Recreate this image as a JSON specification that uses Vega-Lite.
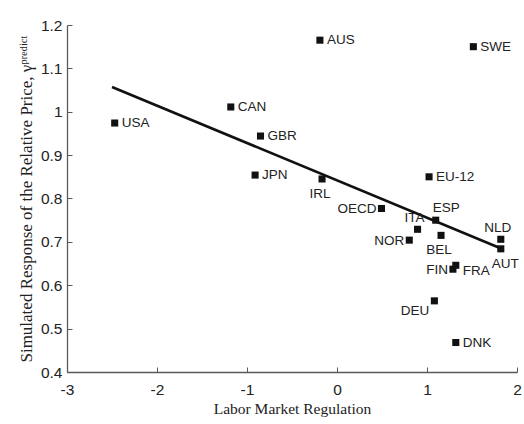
{
  "$schema": "https://vega.github.io/schema/vega-lite/v6.json",
  "autosize": "none",
  "width": 450,
  "height": 347,
  "padding": {"left": 67, "top": 25, "right": 7, "bottom": 52},
  "background": "white",
  "config": {
    "view": {"stroke": null},
    "axis": {
      "grid": false,
      "domainColor": "#5a5a5a",
      "tickColor": "#5a5a5a",
      "domainWidth": 1.3,
      "tickWidth": 1,
      "tickSize": -5,
      "labelFont": "Liberation Sans",
      "labelFontSize": 15.5,
      "labelColor": "#222",
      "titleFont": "Liberation Serif",
      "titleFontSize": 15.5,
      "titleFontWeight": "normal",
      "titleColor": "#222"
    }
  },
  "datasets": {
    "pts": [
      {"country": "USA", "lmr": -2.47, "gamma": 0.974},
      {"country": "CAN", "lmr": -1.18, "gamma": 1.011},
      {"country": "AUS", "lmr": -0.19, "gamma": 1.165},
      {"country": "SWE", "lmr": 1.515, "gamma": 1.150},
      {"country": "GBR", "lmr": -0.85, "gamma": 0.944},
      {"country": "JPN", "lmr": -0.91, "gamma": 0.854},
      {"country": "IRL", "lmr": -0.166, "gamma": 0.845},
      {"country": "EU-12", "lmr": 1.023, "gamma": 0.850},
      {"country": "OECD", "lmr": 0.494, "gamma": 0.777},
      {"country": "ESP", "lmr": 1.097, "gamma": 0.750},
      {"country": "ITA", "lmr": 0.895, "gamma": 0.729},
      {"country": "NOR", "lmr": 0.803, "gamma": 0.704},
      {"country": "BEL", "lmr": 1.156, "gamma": 0.715},
      {"country": "NLD", "lmr": 1.82, "gamma": 0.706},
      {"country": "AUT", "lmr": 1.82, "gamma": 0.684},
      {"country": "FIN", "lmr": 1.288, "gamma": 0.637},
      {"country": "FRA", "lmr": 1.32, "gamma": 0.646},
      {"country": "DEU", "lmr": 1.082, "gamma": 0.564},
      {"country": "DNK", "lmr": 1.32, "gamma": 0.468}
    ],
    "fit": [
      {"lmr": -2.5, "gamma": 1.057},
      {"lmr": 1.81, "gamma": 0.686}
    ]
  },
  "encoding": {
    "x": {
      "field": "lmr", "type": "quantitative",
      "scale": {"domain": [-3, 2], "nice": false, "zero": false},
      "axis": {"title": "Labor Market Regulation", "values": [-3, -2, -1, 0, 1, 2], "labelExpr": "datum.value + ''", "labelPadding": 15, "titlePadding": 4, "labelFlush": false}
    },
    "y": {
      "field": "gamma", "type": "quantitative",
      "scale": {"domain": [0.4, 1.2], "nice": false, "zero": false},
      "axis": {"title": "Simulated Response of the Relative Price, γᵖʳᵉᵈⁱᶜᵗ", "titleFontSize": 17, "values": [0.4, 0.5, 0.6, 0.7, 0.8, 0.9, 1, 1.1, 1.2], "labelExpr": "datum.value + ''", "labelPadding": 10, "titlePadding": 5, "labelFlush": false}
    }
  },
  "layer": [
    {
      "data": {"name": "fit"},
      "mark": {"type": "line", "color": "#111", "strokeWidth": 2.6}
    },
    {
      "data": {"name": "pts"},
      "mark": {"type": "point", "shape": "square", "filled": true, "color": "#111", "opacity": 1, "size": 50}
    },
    {
      "data": {"name": "pts"},
      "transform": [{"filter": {"field": "country", "oneOf": ["USA", "CAN", "AUS", "SWE", "GBR", "JPN", "EU-12", "DNK"]}}],
      "mark": {"type": "text", "align": "left", "baseline": "middle", "dx": 7, "font": "Liberation Sans", "fontSize": 13.5, "color": "#222"},
      "encoding": {"text": {"field": "country"}}
    },
    {
      "data": {"name": "pts"},
      "transform": [{"filter": {"field": "country", "oneOf": ["OECD", "NOR", "FIN"]}}],
      "mark": {"type": "text", "align": "right", "baseline": "middle", "dx": -5, "dy": 1, "font": "Liberation Sans", "fontSize": 13.5, "color": "#222"},
      "encoding": {"text": {"field": "country"}}
    },
    {
      "data": {"name": "pts"},
      "transform": [{"filter": {"field": "country", "oneOf": ["IRL", "BEL"]}}],
      "mark": {"type": "text", "align": "center", "baseline": "top", "dx": -2, "dy": 8, "font": "Liberation Sans", "fontSize": 13.5, "color": "#222"},
      "encoding": {"text": {"field": "country"}}
    },
    {
      "data": {"name": "pts"},
      "transform": [{"filter": {"field": "country", "equal": "ESP"}}],
      "mark": {"type": "text", "align": "left", "baseline": "bottom", "dx": -3, "dy": -5, "font": "Liberation Sans", "fontSize": 13.5, "color": "#222"},
      "encoding": {"text": {"field": "country"}}
    },
    {
      "data": {"name": "pts"},
      "transform": [{"filter": {"field": "country", "oneOf": ["ITA", "NLD"]}}],
      "mark": {"type": "text", "align": "center", "baseline": "bottom", "dx": -3, "dy": -4, "font": "Liberation Sans", "fontSize": 13.5, "color": "#222"},
      "encoding": {"text": {"field": "country"}}
    },
    {
      "data": {"name": "pts"},
      "transform": [{"filter": {"field": "country", "equal": "AUT"}}],
      "mark": {"type": "text", "align": "left", "baseline": "top", "dx": -9, "dy": 8, "font": "Liberation Sans", "fontSize": 13.5, "color": "#222"},
      "encoding": {"text": {"field": "country"}}
    },
    {
      "data": {"name": "pts"},
      "transform": [{"filter": {"field": "country", "equal": "FRA"}}],
      "mark": {"type": "text", "align": "left", "baseline": "middle", "dx": 7, "dy": 6, "font": "Liberation Sans", "fontSize": 13.5, "color": "#222"},
      "encoding": {"text": {"field": "country"}}
    },
    {
      "data": {"name": "pts"},
      "transform": [{"filter": {"field": "country", "equal": "DEU"}}],
      "mark": {"type": "text", "align": "right", "baseline": "middle", "dx": -5, "dy": 10, "font": "Liberation Sans", "fontSize": 13.5, "color": "#222"},
      "encoding": {"text": {"field": "country"}}
    }
  ]
}
